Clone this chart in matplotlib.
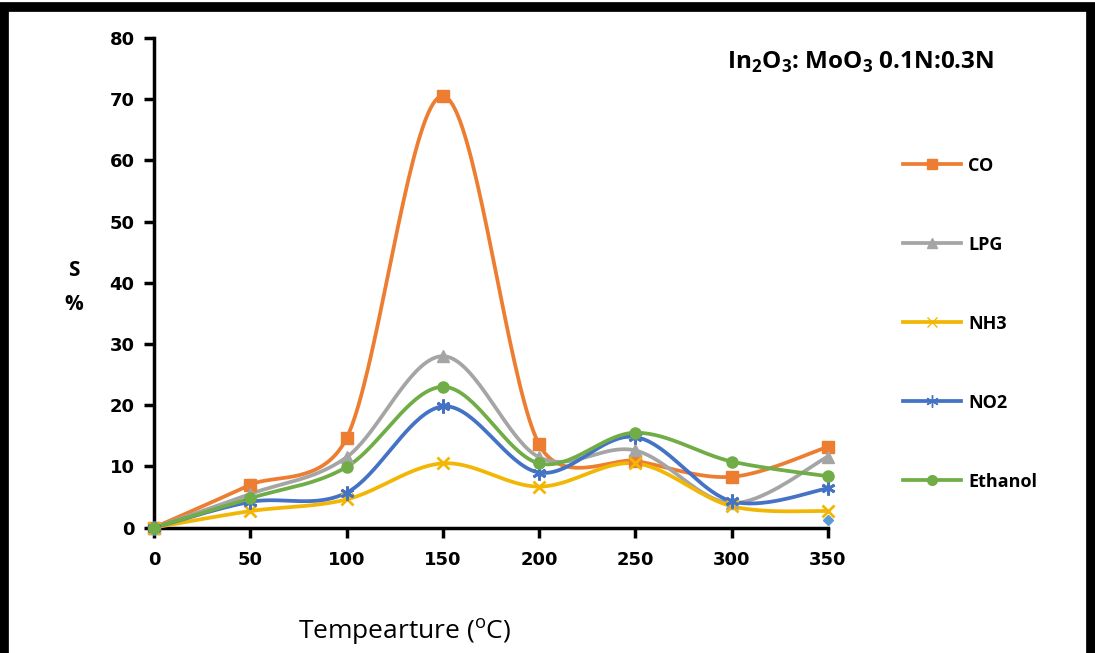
import numpy as np
import matplotlib
matplotlib.use('Agg')
import matplotlib.pyplot as plt
from matplotlib.patches import Rectangle

plt.rcParams['mathtext.fontset'] = 'custom'
plt.rcParams['mathtext.bf'] = 'Open Sans:bold'
plt.rcParams['mathtext.rm'] = 'Open Sans:bold'

temps = [0, 50, 100, 150, 200, 250, 300, 350]
co = [0, 7.0, 14.6, 70.5, 13.6, 10.9, 8.3, 13.2]
lpg = [0, 5.5, 11.5, 28.0, 11.5, 12.6, 4.0, 11.6]
nh3 = [0, 2.7, 4.6, 10.5, 6.7, 10.5, 3.5, 2.7]
no2 = [0, 4.2, 5.7, 19.8, 9.0, 14.8, 4.3, 6.4]
ethanol = [0, 4.8, 9.9, 23.0, 10.5, 15.5, 10.8, 8.4]
stray_x = [350]
stray_y = [1.2]

names = ['CO', 'LPG', 'NH3', 'NO2', 'Ethanol']
series = [co, lpg, nh3, no2, ethanol]
colors = ['#ED7D31', '#A5A5A5', '#F2B705', '#4472C4', '#70AD47']
markers = ['s', '^', 'x', (6, 2, 0), 'o']
msizes = [8, 8, 8, 10, 8]

XMAX, YMAX = 350, 80
W, H = 1095, 653
pos = [0.1406, 0.192, 0.6155, 0.750]
sx = pos[2] * W / XMAX   # pixels per x unit
sy = pos[3] * H / YMAX   # pixels per y unit


def smooth(x, y, n=40):
    # excel style smoothing (bezier, control arms limited to half a segment)
    p = np.column_stack([np.asarray(x, float) * sx, np.asarray(y, float) * sy])
    m = len(p)
    t = np.linspace(0, 1, n)[:, None]
    pts = []
    for i in range(m - 1):
        p1, p2 = p[i], p[i + 1]
        p0 = p[i - 1] if i > 0 else p1
        p3 = p[i + 2] if i + 2 < m else p2
        d12 = np.hypot(*(p2 - p1))
        d02 = np.hypot(*(p2 - p0))
        d13 = np.hypot(*(p3 - p1))
        f0 = f3 = 1 / 6
        big0 = d02 / 6 >= d12 / 2
        big3 = d13 / 6 >= d12 / 2
        if big0 and big3:
            f0 = d12 / 2 / d02
            f3 = d12 / 2 / d13
        elif big0:
            f0 = f3 = d12 / 2 / d02
        elif big3:
            f0 = f3 = d12 / 2 / d13
        c1 = p1 + f0 * (p2 - p0)
        c2 = p2 - f3 * (p3 - p1)
        b = (1 - t) ** 3 * p1 + 3 * (1 - t) ** 2 * t * c1 \
            + 3 * (1 - t) * t ** 2 * c2 + t ** 3 * p2
        pts.append(b)
    pts = np.vstack(pts)
    return pts[:, 0] / sx, pts[:, 1] / sy


fig = plt.figure(figsize=(W / 100, H / 100), dpi=100)
fig.patches.append(Rectangle((0.004, -0.05), 0.992, 1.04, transform=fig.transFigure,
                             fill=False, edgecolor='black', linewidth=7))

ax = fig.add_axes(pos)

for name, vals, c, m, ms in zip(names, series, colors, markers, msizes):
    lx, ly = smooth(temps, vals)
    ax.plot(lx, ly, color=c, linewidth=2.7, clip_on=False, zorder=3)
    ax.plot(temps, vals, linestyle='none', marker=m, color=c, markersize=ms,
            markeredgewidth=2 if m in ('x', (6, 2, 0)) else 1, clip_on=False, zorder=4)
    ax.plot([], [], color=c, linewidth=2.7, marker=m, markersize=ms - 1, label=name)

ax.plot(stray_x, stray_y, linestyle='none', marker='D', markersize=5, color='#5B9BD5',
        clip_on=False, zorder=4)

ax.set_xlim(0, XMAX)
ax.set_ylim(0, YMAX)
ax.set_xticks(range(0, 351, 50))
ax.set_yticks(range(0, 81, 10))
for s in ['top', 'right']:
    ax.spines[s].set_visible(False)
for s in ['left', 'bottom']:
    ax.spines[s].set_linewidth(2.5)
ax.tick_params(direction='out', length=7, width=2.5, labelsize=13)
ax.tick_params(axis='x', pad=10)
ax.tick_params(axis='y', pad=7)
for lab in ax.get_xticklabels() + ax.get_yticklabels():
    lab.set_fontweight('bold')
    lab.set_family(['Liberation Sans Narrow', 'DejaVu Sans Condensed', 'DejaVu Sans'])

fig.text(0.067, 0.577, 'S', fontsize=15, fontweight='bold', family='Open Sans', ha='center')
fig.text(0.067, 0.525, '%', fontsize=15, fontweight='bold', family='Open Sans', ha='center')
fig.text(0.370, 0.022, 'Tempearture ($\\mathregular{^{o}}$C)', fontsize=19, family='Open Sans',
         ha='center')
fig.text(0.664, 0.895, r'In$_\mathbf{2}$O$_\mathbf{3}$: MoO$_\mathbf{3}$ 0.1N:0.3N',
         fontsize=17.5, fontweight='bold', family='Open Sans')

leg = fig.legend(loc='upper left', bbox_to_anchor=(0.81, 0.785), frameon=False,
                 labelspacing=3.38, handlelength=3.2, handletextpad=0.4,
                 prop={'family': 'Open Sans', 'weight': 'bold', 'size': 13})

fig.savefig('out.png', dpi=100)
